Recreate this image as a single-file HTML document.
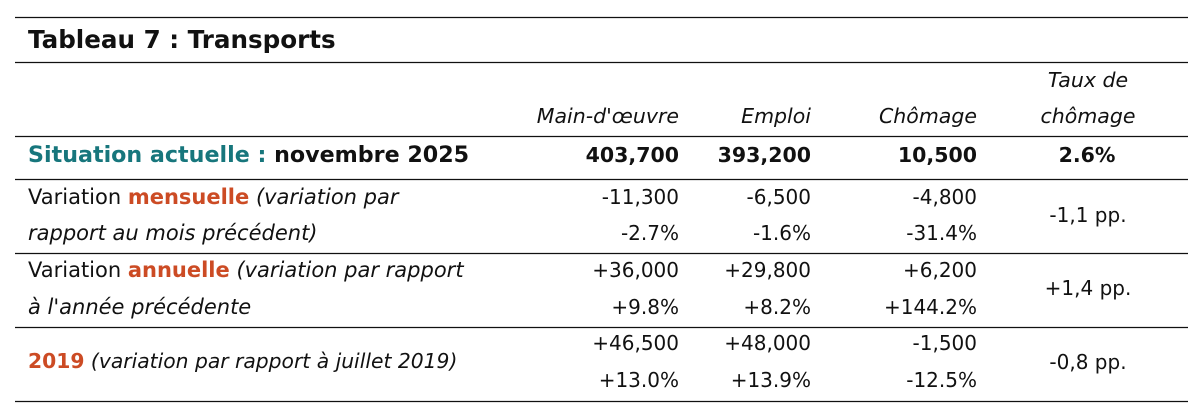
<!DOCTYPE html>
<html>
<head>
<meta charset="utf-8">
<style>
  html, body { margin: 0; padding: 0; background: #ffffff; }
  body { width: 1201px; height: 418px; overflow: hidden; }
  svg { display: block; }
  text { font-family: "DejaVu Sans", "Liberation Sans", sans-serif; fill: #111; }
  .b { font-weight: bold; }
  .i { font-style: italic; }
  .teal { fill: #17767c; }
  .or { fill: #cc4b24; }
</style>
</head>
<body>
<svg width="1201" height="418" viewBox="0 0 1201 418" xmlns="http://www.w3.org/2000/svg">
  <rect width="1201" height="418" fill="#fff"/>
  <!-- horizontal rules -->
  <g stroke="#111" stroke-width="1.2">
    <line x1="15" x2="1188" y1="17.5" y2="17.5"/>
    <line x1="15" x2="1188" y1="62.5" y2="62.5"/>
    <line x1="15" x2="1188" y1="136.5" y2="136.5"/>
    <line x1="15" x2="1188" y1="179.5" y2="179.5"/>
    <line x1="15" x2="1188" y1="253.5" y2="253.5"/>
    <line x1="15" x2="1188" y1="327.5" y2="327.5"/>
    <line x1="15" x2="1188" y1="401.5" y2="401.5"/>
  </g>

  <!-- title -->
  <text x="28" y="48" class="b" font-size="24.6">Tableau 7 : Transports</text>

  <!-- header -->
  <g class="i" font-size="20.5">
    <text x="1088" y="87" text-anchor="middle" class="i">Taux de</text>
    <text x="1088" y="123" text-anchor="middle" class="i">chômage</text>
    <text x="679" y="123" text-anchor="end" class="i">Main-d'œuvre</text>
    <text x="811" y="123" text-anchor="end" class="i">Emploi</text>
    <text x="977" y="123" text-anchor="end" class="i">Chômage</text>
  </g>

  <!-- situation row -->
  <text x="28" y="162" font-size="22.2" class="b"><tspan class="teal">Situation actuelle :</tspan> novembre 2025</text>
  <g font-size="20.5" class="b">
    <text x="679" y="162" text-anchor="end" class="b">403,700</text>
    <text x="811" y="162" text-anchor="end" class="b">393,200</text>
    <text x="977" y="162" text-anchor="end" class="b">10,500</text>
    <text x="1087" y="162" text-anchor="middle" class="b">2.6%</text>
  </g>

  <!-- row 1 mensuelle -->
  <text x="28" y="204" font-size="21">Variation <tspan class="b or">mensuelle</tspan> <tspan class="i">(variation par</tspan></text>
  <text x="28" y="240" font-size="21" class="i">rapport au mois précédent)</text>
  <g font-size="20">
    <text x="679" y="204" text-anchor="end">-11,300</text>
    <text x="679" y="240" text-anchor="end">-2.7%</text>
    <text x="811" y="204" text-anchor="end">-6,500</text>
    <text x="811" y="240" text-anchor="end">-1.6%</text>
    <text x="977" y="204" text-anchor="end">-4,800</text>
    <text x="977" y="240" text-anchor="end">-31.4%</text>
    <text x="1088" y="222" text-anchor="middle">-1,1 pp.</text>
  </g>

  <!-- row 2 annuelle -->
  <text x="28" y="277" font-size="21">Variation <tspan class="b or">annuelle</tspan> <tspan class="i">(variation par rapport</tspan></text>
  <text x="28" y="314" font-size="21" class="i">à l'année précédente</text>
  <g font-size="20">
    <text x="679" y="277" text-anchor="end">+36,000</text>
    <text x="679" y="314" text-anchor="end">+9.8%</text>
    <text x="811" y="277" text-anchor="end">+29,800</text>
    <text x="811" y="314" text-anchor="end">+8.2%</text>
    <text x="977" y="277" text-anchor="end">+6,200</text>
    <text x="977" y="314" text-anchor="end">+144.2%</text>
    <text x="1088" y="295" text-anchor="middle">+1,4 pp.</text>
  </g>

  <!-- row 3 2019 -->
  <text x="28" y="368" font-size="20.3"><tspan class="b or">2019</tspan> <tspan class="i">(variation par rapport à juillet 2019)</tspan></text>
  <g font-size="20">
    <text x="679" y="350" text-anchor="end">+46,500</text>
    <text x="679" y="387" text-anchor="end">+13.0%</text>
    <text x="811" y="350" text-anchor="end">+48,000</text>
    <text x="811" y="387" text-anchor="end">+13.9%</text>
    <text x="977" y="350" text-anchor="end">-1,500</text>
    <text x="977" y="387" text-anchor="end">-12.5%</text>
    <text x="1088" y="369" text-anchor="middle">-0,8 pp.</text>
  </g>
</svg>
</body>
</html>
